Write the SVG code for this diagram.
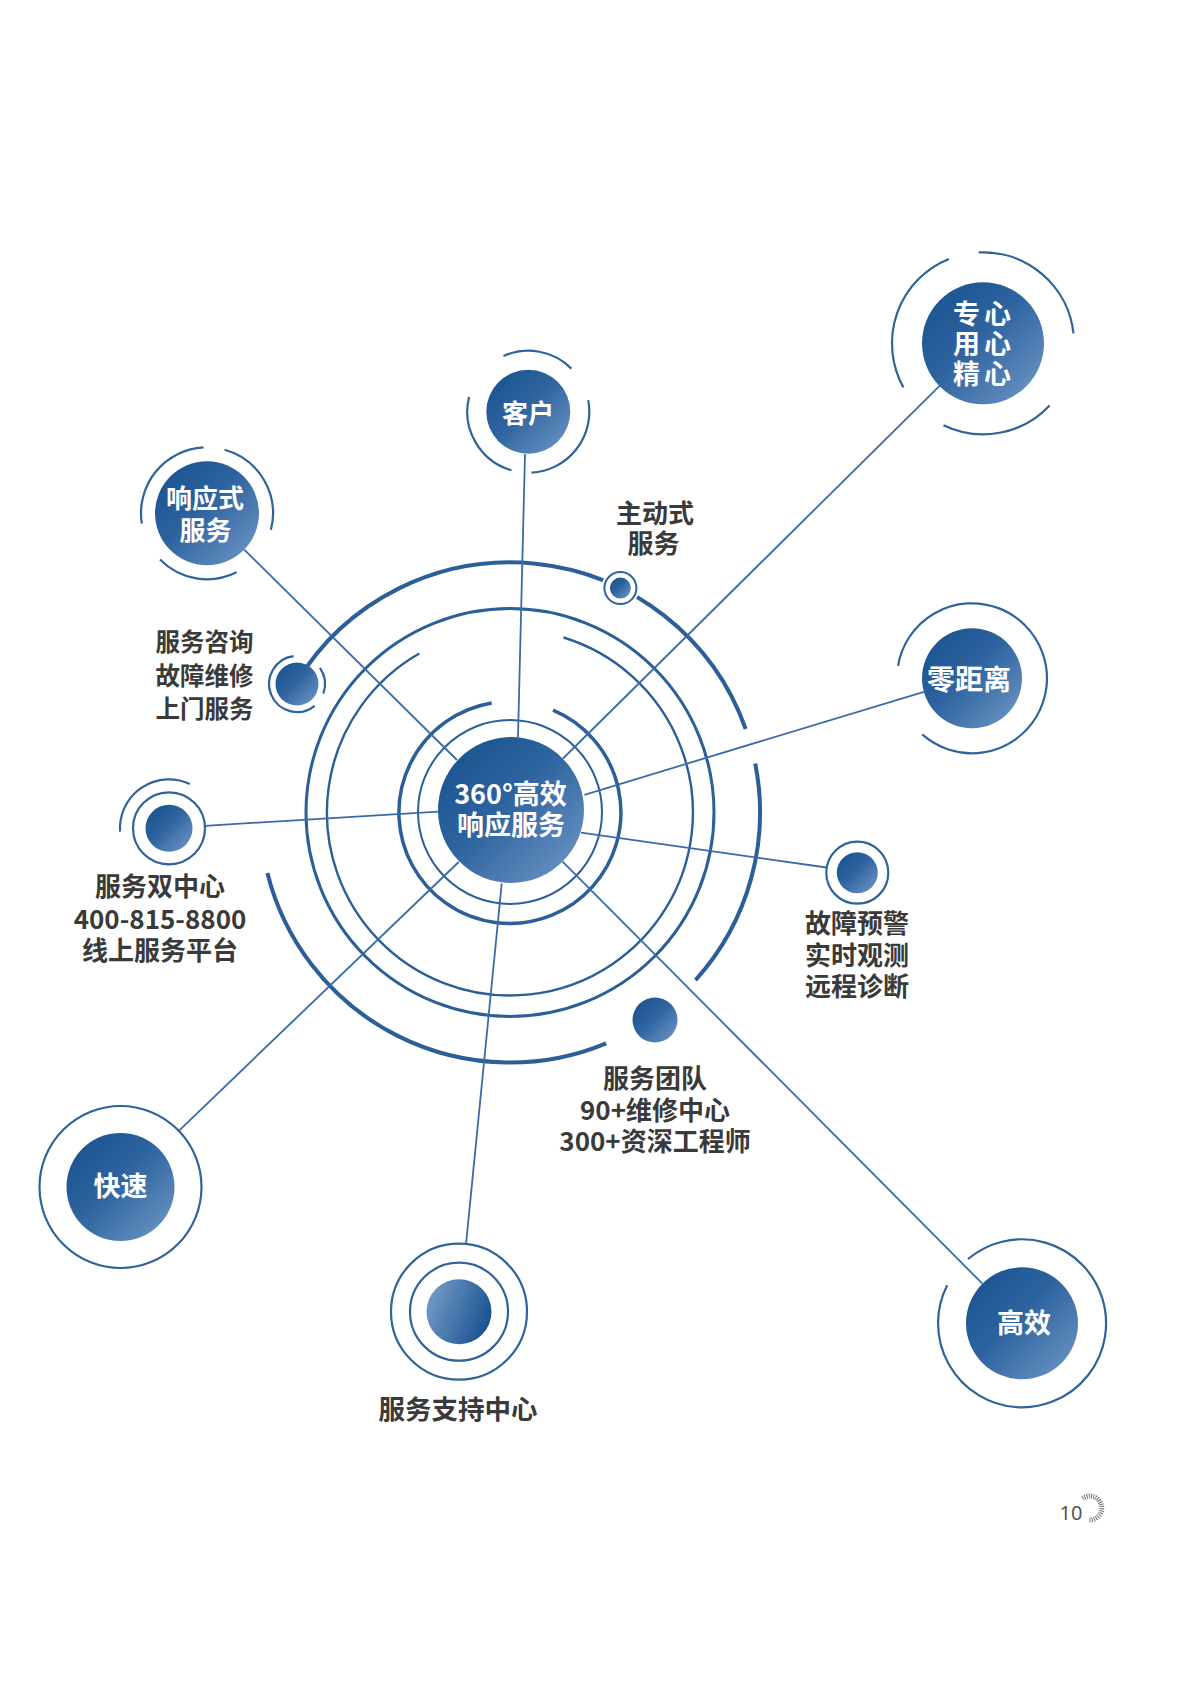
<svg xmlns="http://www.w3.org/2000/svg" width="1200" height="1697" viewBox="0 0 1200 1697">
<defs>
<linearGradient id="g" x1="0" y1="0" x2="1" y2="1">
<stop offset="0" stop-color="#16508d"/>
<stop offset="0.45" stop-color="#2d639f"/>
<stop offset="1" stop-color="#739ac8"/>
</linearGradient>
<linearGradient id="gr" x1="0" y1="0.3" x2="1" y2="0.7">
<stop offset="0" stop-color="#739ac8"/>
<stop offset="1" stop-color="#16508d"/>
</linearGradient>
<style>
.ring{fill:none;stroke:#2b5f98;}
.nr{fill:none;stroke:#2f6399;stroke-width:2.2;}
.sp{stroke:#3a6ba4;stroke-width:1.8;fill:none;}
.node{fill:url(#g);}
.wt{font-family:"Noto Sans CJK SC","Noto Sans",sans-serif;font-weight:700;fill:#ffffff;text-anchor:middle;}
.dt{font-family:"Noto Sans CJK SC","Noto Sans",sans-serif;font-weight:700;fill:#3a3a3a;}
</style>
</defs>
<rect width="1200" height="1697" fill="#ffffff"/>

<g id="rings">
<circle class="ring" cx="510" cy="812" r="92" stroke-width="2"/>
<path class="ring" stroke-width="3.5" d="M553.0,710.2 A111,111 0 1 1 491.7,703.0"/>
<path class="ring" stroke-width="2.4" d="M563.5,637.5 A183,183 0 1 1 419.3,653.5"/>
<circle class="ring" cx="510" cy="812.5" r="204" stroke-width="3"/>
<path class="ring" stroke-width="4" d="M296.1,683.0 A250,250 0 0 1 745.7,729.0"/>
<path class="ring" stroke-width="4" d="M755.2,763.5 A250,250 0 0 1 695.5,980.1"/>
<path class="ring" stroke-width="4" d="M606.1,1043.3 A250,250 0 0 1 267.4,873.0"/>
</g>

<g id="connectors">
<line class="sp" x1="518" y1="737" x2="525" y2="454"/>
<line class="sp" x1="563" y1="758.5" x2="939.6" y2="385.9"/>
<line class="sp" x1="584.4" y1="794.8" x2="923.9" y2="691.8"/>
<line class="sp" x1="581" y1="832.7" x2="826.6" y2="867.5"/>
<line class="sp" x1="562.6" y1="861.6" x2="982.4" y2="1283.7"/>
<line class="sp" x1="501.7" y1="883.7" x2="466" y2="1244.4"/>
<line class="sp" x1="458.7" y1="862" x2="178.8" y2="1130.8"/>
<line class="sp" x1="438.3" y1="811.7" x2="205" y2="825.8"/>
<line class="sp" x1="457" y1="760" x2="244.2" y2="549.6"/>
</g>

<g id="center">
<circle class="node" cx="511" cy="810" r="73"/>
<text class="wt" x="510.5" y="804" font-size="27">360°高效</text>
<text class="wt" x="511" y="835" font-size="27">响应服务</text>
</g>

<g id="kehu">
<path class="nr" d="M503.5,356.0 A61,61 0 0 1 571.4,368.6"/>
<path class="nr" d="M588.2,400.1 A61,61 0 0 1 531.5,472.6"/>
<path class="nr" d="M511.5,470.3 A61,61 0 0 1 469.1,396.9"/>
<circle class="node" cx="528.3" cy="411.7" r="42"/>
<text class="wt" x="528" y="423" font-size="26">客户</text>
</g>

<g id="xiangyingshi">
<path class="nr" d="M141.8,523.6 A66,66 0 0 1 203.5,447.4"/>
<path class="nr" d="M224.6,449.7 A66,66 0 0 1 270.9,529.8"/>
<path class="nr" d="M236.6,572.3 A66,66 0 0 1 160.0,559.6"/>
<circle class="node" cx="207" cy="513.3" r="52"/>
<text class="wt" x="205" y="508" font-size="26">响应式</text>
<text class="wt" x="205.5" y="540" font-size="26">服务</text>
</g>

<g id="zhuanxin">
<path class="nr" stroke-width="2.5" d="M903.4,387.4 A91,91 0 0 1 948.9,258.9"/>
<path class="nr" stroke-width="2.5" d="M978.7,252.4 A91,91 0 0 1 1073.5,333.3"/>
<path class="nr" stroke-width="2.5" d="M1049.6,405.4 A91,91 0 0 1 943.5,425.3"/>
<circle class="node" cx="983" cy="343.3" r="61"/>
<text class="wt" x="984" y="324" font-size="27" letter-spacing="4">专心</text>
<text class="wt" x="984" y="354" font-size="27" letter-spacing="4">用心</text>
<text class="wt" x="984" y="384" font-size="27" letter-spacing="4">精心</text>
</g>

<g id="lingjuli">
<path class="nr" stroke-width="2.5" d="M898.0,665.9 A75,75 0 1 1 922.2,734.4"/>
<circle class="node" cx="972" cy="678.3" r="50"/>
<text class="wt" x="969" y="690" font-size="28">零距离</text>
</g>

<g id="zhudongshi">
<circle cx="620.4" cy="588.1" r="19" fill="#ffffff"/>
<circle cx="620.4" cy="588.1" r="16" fill="#ffffff" stroke="#2f6399" stroke-width="2"/>
<circle class="node" cx="620.4" cy="588.1" r="10.5"/>
<text class="dt" x="655" y="523" font-size="26" text-anchor="middle">主动式</text>
<text class="dt" x="653.5" y="553" font-size="26" text-anchor="middle">服务</text>
</g>

<g id="fuwuzixun">
<path class="nr" d="M319.9,667.9 A28,28 0 0 1 323.3,693.6"/>
<path class="nr" d="M314.6,705.8 A28,28 0 1 1 293.6,656.2"/>
<circle class="node" cx="297" cy="684" r="21.5"/>
<text class="dt" x="253.5" y="651" font-size="24.5" text-anchor="end">服务咨询</text>
<text class="dt" x="253.5" y="685" font-size="24.5" text-anchor="end">故障维修</text>
<text class="dt" x="253.5" y="718" font-size="24.5" text-anchor="end">上门服务</text>
</g>

<g id="shuangzhongxin">
<path class="nr" d="M120.1,831.7 A49,49 0 0 1 189.7,783.9"/>
<circle class="nr" cx="169" cy="828.3" r="36"/>
<circle class="node" cx="169" cy="828.3" r="23.5"/>
<text class="dt" x="160" y="896" font-size="26" text-anchor="middle">服务双中心</text>
<text class="dt" x="160" y="929" font-size="26" text-anchor="middle">400-815-8800</text>
<text class="dt" x="160" y="960" font-size="26" text-anchor="middle">线上服务平台</text>
</g>

<g id="guzhangyujing">
<circle class="nr" cx="857.3" cy="872.7" r="31"/>
<circle class="node" cx="857.3" cy="872.7" r="20.5"/>
<text class="dt" x="805" y="933" font-size="26">故障预警</text>
<text class="dt" x="805" y="965" font-size="26">实时观测</text>
<text class="dt" x="805" y="996" font-size="26">远程诊断</text>
</g>

<g id="fuwutuandui">
<circle class="node" cx="655" cy="1020" r="22.5"/>
<text class="dt" x="655" y="1088" font-size="26" text-anchor="middle">服务团队</text>
<text class="dt" x="655" y="1120" font-size="26" text-anchor="middle">90+维修中心</text>
<text class="dt" x="655" y="1151" font-size="26" text-anchor="middle">300+资深工程师</text>
</g>

<g id="kuaisu">
<circle class="nr" cx="120.5" cy="1187" r="81"/>
<circle class="node" cx="120.5" cy="1187" r="54"/>
<text class="wt" x="120.5" y="1196" font-size="27">快速</text>
</g>

<g id="zhichizhongxin">
<circle class="nr" cx="459" cy="1311.7" r="68"/>
<circle class="nr" cx="459" cy="1311.7" r="49"/>
<circle cx="459" cy="1311.7" r="32.5" fill="url(#gr)"/>
<text class="dt" x="458" y="1419" font-size="26.5" text-anchor="middle">服务支持中心</text>
</g>

<g id="gaoxiao">
<path class="nr" stroke-width="2.5" d="M968.0,1259.0 A84,84 0 1 1 947.2,1285.2"/>
<circle class="node" cx="1022" cy="1323.3" r="56"/>
<text class="wt" x="1024" y="1333" font-size="27">高效</text>
</g>

<g id="pagenum">
<text x="1071" y="1520" font-family="'Noto Sans','Liberation Sans',sans-serif" font-size="20" fill="#555555" text-anchor="middle">10</text>
<path d="M1082.7,1498.3 A12,12 0 1 1 1089,1520" fill="none" stroke="#666666" stroke-width="5" stroke-dasharray="0.9 1.3"/>
</g>
</svg>
